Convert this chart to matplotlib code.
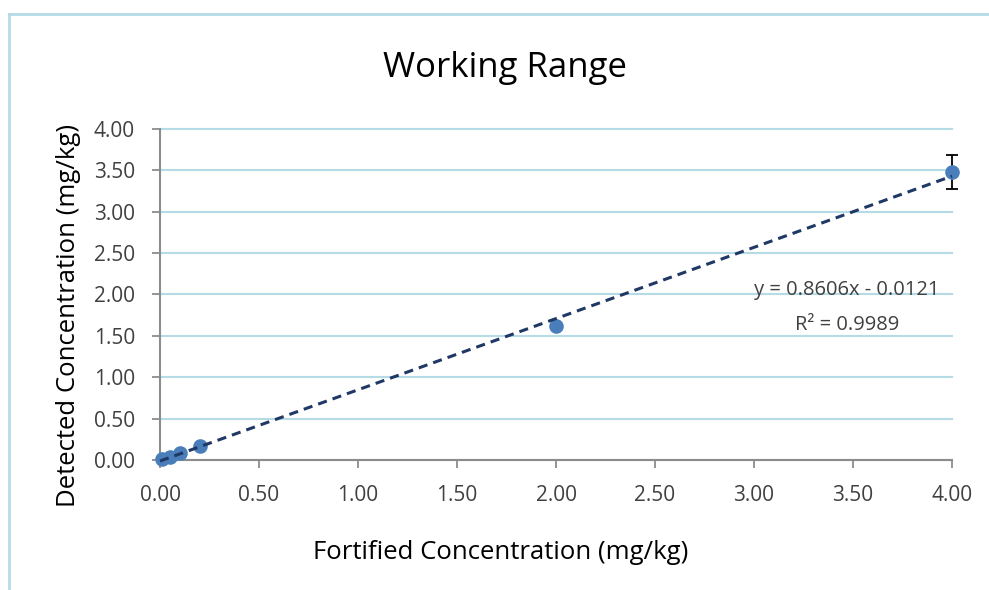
import matplotlib
matplotlib.use("Agg")
import matplotlib.pyplot as plt
from matplotlib.lines import Line2D

# data
fortified = [0.01, 0.05, 0.1, 0.2, 2.0, 4.0]
detected = [0.01, 0.04, 0.09, 0.17, 1.62, 3.48]
detected_sd = [0.0, 0.0, 0.0, 0.0, 0.02, 0.2]
slope = 0.8606
intercept = -0.0121
r_squared = 0.9989
ticks = [0.0, 0.5, 1.0, 1.5, 2.0, 2.5, 3.0, 3.5, 4.0]

plt.rcParams['font.family'] = ['Open Sans', 'DejaVu Sans']

fig = plt.figure(figsize=(9.89, 5.90), dpi=100)
ax = fig.add_axes([0.1618, 0.2203, 0.8008, 0.5611])

grid_col = '#b4dbe6'
axis_col = '#8c8c8c'
text_col = '#404040'

# frame lines of the chart area
fig.add_artist(Line2D([0.0095, 0.0095], [0.0, 0.976], transform=fig.transFigure,
                      color=grid_col, lw=2))
fig.add_artist(Line2D([0.0095, 0.999], [0.976, 0.976], transform=fig.transFigure,
                      color=grid_col, lw=2))

eb = ax.errorbar(fortified, detected, yerr=detected_sd, fmt='o', color='#4a7ebb',
                 markersize=9.5, ecolor='black', elinewidth=1.3, capsize=4, capthick=1.3,
                 zorder=3)
for part in [eb[0], *eb[1], *eb[2]]:
    part.set_clip_on(False)

xs = [0.0, 4.0]
ax.plot(xs, [slope * x + intercept for x in xs], linestyle=(0, (3, 2)),
        color='#1f3864', lw=2.2, zorder=4, clip_on=False)

ax.set_xlim(0, 4)
ax.set_ylim(0, 4)
ax.set_xticks(ticks)
ax.set_yticks(ticks)
ax.set_xticklabels(['%.2f' % t for t in ticks])
ax.set_yticklabels(['%.2f' % t for t in ticks])
ax.tick_params(axis='both', colors=axis_col, labelcolor=text_col, labelsize=15,
               length=6, width=1.3, direction='out')
ax.tick_params(axis='x', pad=12)
ax.tick_params(axis='y', pad=12)

ax.yaxis.grid(True, color=grid_col, lw=1.5)
for gl in ax.yaxis.get_gridlines():
    gl.set_clip_on(False)
ax.set_axisbelow(True)
for side in ['top', 'right']:
    ax.spines[side].set_visible(False)
for side in ['left', 'bottom']:
    ax.spines[side].set_color(axis_col)
    ax.spines[side].set_linewidth(1.5)

fig.text(0.511, 0.885, 'Working Range', fontsize=25, color='black',
         ha='center', va='center')
fig.text(0.5066, 0.0644, 'Fortified Concentration (mg/kg)', fontsize=18.5,
         color='black', ha='center', va='center')
fig.text(0.0688, 0.466, 'Detected Concentration (mg/kg)', fontsize=18.5,
         color='black', ha='center', va='center', rotation=90)

ax.text(3.47, 2.05, 'y = %.4fx - %.4f' % (slope, -intercept), fontsize=14.5,
        color=text_col, ha='center', va='center')
ax.text(3.47, 1.63, 'R² = %.4f' % r_squared, fontsize=14.5,
        color=text_col, ha='center', va='center')

fig.savefig('out.png', dpi=100)
